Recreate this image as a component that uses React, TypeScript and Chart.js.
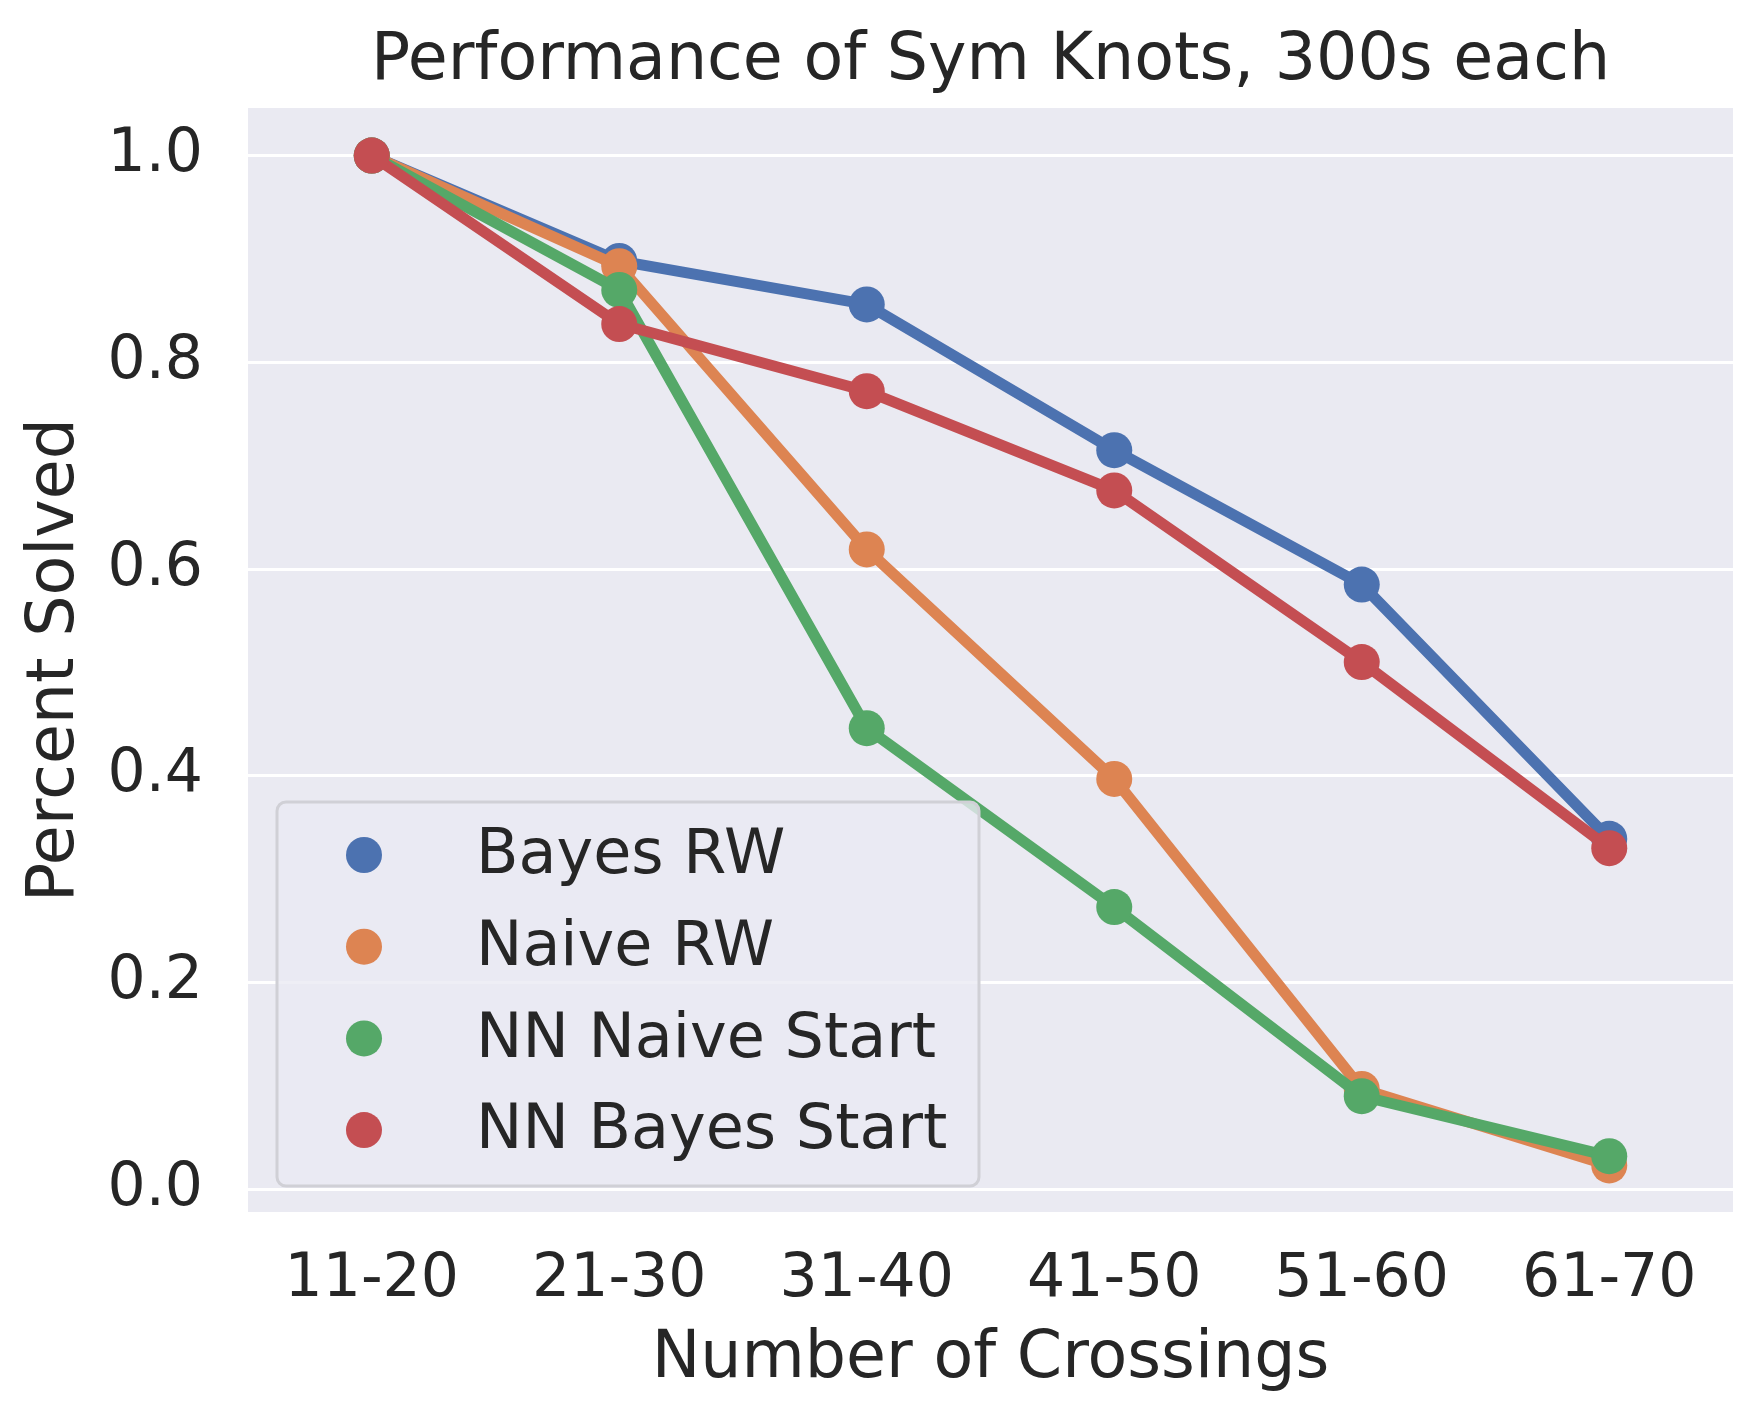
import React, { useEffect, useRef } from "react";
import { Chart, registerables } from "chart.js";

Chart.register(...registerables);

const categories = ["11-20", "21-30", "31-40", "41-50", "51-60", "61-70"];
const bayesRW = [1.0, 0.898, 0.856, 0.715, 0.585, 0.339];
const naiveRW = [1.0, 0.893, 0.619, 0.397, 0.097, 0.023];
const nnNaiveStart = [1.0, 0.87, 0.446, 0.273, 0.09, 0.032];
const nnBayesStart = [1.0, 0.837, 0.772, 0.676, 0.51, 0.33];
const seriesNames = ["Bayes RW", "Naive RW", "NN Naive Start", "NN Bayes Start"];
const seriesColors = ["#4C72B0", "#DD8452", "#55A868", "#C44E52"];
const yTicks = [0.0, 0.2, 0.4, 0.6, 0.8, 1.0];

const FONT = '"DejaVu Sans", "Liberation Sans", sans-serif';
const TEXT = "#262626";

const legendPlugin = {
  id: "innerLegend",
  afterDatasetsDraw(chart: any) {
    const { ctx, chartArea } = chart;
    const bx = chartArea.left + 29;
    const by = chartArea.bottom - 26 - 384;
    const bw = 702;
    const bh = 384;
    ctx.save();
    ctx.beginPath();
    ctx.roundRect(bx, by, bw, bh, 9);
    ctx.fillStyle = "rgba(234,234,242,0.8)";
    ctx.fill();
    ctx.lineWidth = 3;
    ctx.strokeStyle = "#D0D0D6";
    ctx.stroke();
    ctx.font = `62px ${FONT}`;
    ctx.textBaseline = "middle";
    ctx.textAlign = "left";
    chart.data.datasets.forEach((ds: any, i: number) => {
      const cy = by + 53 + i * 91.7;
      ctx.beginPath();
      ctx.arc(bx + 87, cy, 18, 0, Math.PI * 2);
      ctx.fillStyle = ds.borderColor;
      ctx.fill();
      ctx.fillStyle = TEXT;
      ctx.fillText(ds.label, bx + 199, cy + 2);
    });
    ctx.restore();
  },
};

const bgPlugin = {
  id: "axesBg",
  beforeDraw(chart: any) {
    const { ctx, chartArea, width, height } = chart;
    ctx.save();
    ctx.fillStyle = "#ffffff";
    ctx.fillRect(0, 0, width, height);
    ctx.fillStyle = "#EAEAF2";
    ctx.fillRect(chartArea.left, chartArea.top, chartArea.right - chartArea.left, chartArea.bottom - chartArea.top);
    ctx.restore();
  },
};

export default function App() {
  const ref = useRef<HTMLCanvasElement | null>(null);
  useEffect(() => {
    document.body.style.margin = "0";
    const series = [bayesRW, naiveRW, nnNaiveStart, nnBayesStart];
    const chart = new Chart(ref.current as HTMLCanvasElement, {
      type: "line",
      data: {
        labels: categories,
        datasets: series.map((vals, i) => ({
          label: seriesNames[i],
          data: vals,
          borderColor: seriesColors[i],
          backgroundColor: seriesColors[i],
          pointBackgroundColor: seriesColors[i],
          pointBorderColor: seriesColors[i],
          borderWidth: 11,
          pointRadius: 18,
          pointBorderWidth: 0,
          tension: 0,
          order: 3 - i,
        })),
      },
      options: {
        animation: false,
        responsive: false,
        devicePixelRatio: 1,
        layout: { padding: { top: 0, right: 30, left: 0, bottom: 0 } },
        plugins: {
          legend: { display: false },
          tooltip: { enabled: false },
          title: {
            display: true,
            text: "Performance of Sym Knots, 300s each",
            color: TEXT,
            fullSize: false,
            font: { family: FONT, size: 65, weight: "normal" },
            padding: { top: 23, bottom: 7 },
          },
        },
        scales: {
          x: {
            type: "category",
            offset: true,
            grid: { display: false, drawTicks: false },
            border: { display: false },
            ticks: { color: TEXT, font: { family: FONT, size: 60 }, padding: 32, maxRotation: 0 },
            title: {
              display: true,
              text: "Number of Crossings",
              color: TEXT,
              font: { family: FONT, size: 65 },
              padding: { top: 0, bottom: 24 },
            },
            afterFit(scale: any) {
              scale.height = 211;
            },
          },
          y: {
            type: "linear",
            min: -0.022,
            max: 1.046,
            grid: { color: "#ffffff", lineWidth: 3, drawTicks: false },
            border: { display: false },
            afterBuildTicks(scale: any) {
              scale.ticks = yTicks.map((v) => ({ value: v }));
            },
            ticks: {
              color: TEXT,
              font: { family: FONT, size: 60 },
              padding: 45,
              callback: (v: any) => Number(v).toFixed(1),
            },
            title: {
              display: true,
              text: "Percent Solved",
              color: TEXT,
              font: { family: FONT, size: 65 },
              padding: { top: 17, bottom: 0 },
            },
            afterFit(scale: any) {
              scale.width = 248;
            },
          },
        },
      },
      plugins: [bgPlugin, legendPlugin],
    } as any);
    return () => chart.destroy();
  }, []);
  return (
    <div style={{ width: 1763, height: 1423 }}>
      <canvas ref={ref} width={1763} height={1423} style={{ width: 1763, height: 1423, display: "block" }} />
    </div>
  );
}
